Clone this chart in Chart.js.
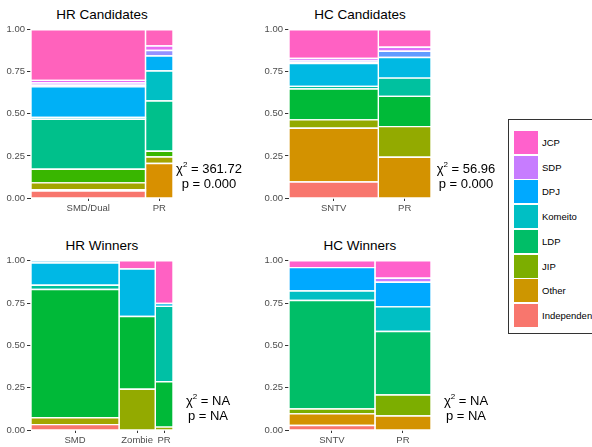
<!DOCTYPE html>
<html>
<head>
<meta charset="utf-8">
<script src="https://cdn.jsdelivr.net/npm/chart.js@4.4.1/dist/chart.umd.min.js"></script>
<style>
body { margin: 0; width: 592px; height: 447px; overflow: hidden; background: #fff; position: relative;
       font-family: "Liberation Sans", Arial, sans-serif; }
canvas { position: absolute; }
.title { position: absolute; width: 200px; text-align: center; font-size: 13.5px; line-height: 16px; color: #000; }
.stat { position: absolute; width: 80px; text-align: center; font-size: 13px; line-height: 15px; color: #000; }
.stat sup { font-size: 8px; line-height: 0; vertical-align: 6px; }
#legend { position: absolute; left: 508px; top: 119px; width: 110px; height: 213px; border: 1px solid #333; }
.key { position: absolute; left: 5px; width: 24px; height: 23px; }
.lab { position: absolute; left: 33px; font-size: 9.5px; line-height: 23px; color: #000; white-space: nowrap; }
</style>
</head>
<body>

<div class="title" style="left:2px;top:7px">HR Candidates</div>
<div class="title" style="left:260px;top:7px">HC Candidates</div>
<div class="title" style="left:2px;top:238px">HR Winners</div>
<div class="title" style="left:260px;top:238px">HC Winners</div>

<canvas id="hrCand" width="176" height="192" style="left:0px;top:22px"></canvas>
<canvas id="hcCand" width="176" height="192" style="left:258px;top:22px"></canvas>
<canvas id="hrWin" width="176" height="193" style="left:0px;top:253px"></canvas>
<canvas id="hcWin" width="176" height="193" style="left:258px;top:253px"></canvas>

<div class="stat" style="left:169px;top:161px">&chi;<sup>2</sup> = 361.72<br>p = 0.000</div>
<div class="stat" style="left:426px;top:161px">&chi;<sup>2</sup> = 56.96<br>p = 0.000</div>
<div class="stat" style="left:168px;top:393px">&chi;<sup>2</sup> = NA<br>p = NA</div>
<div class="stat" style="left:426px;top:393px">&chi;<sup>2</sup> = NA<br>p = NA</div>

<div id="legend"></div>

<script>
// y axis ticks shared by all four panels
const yTicks = [0, 0.25, 0.5, 0.75, 1];

// legend
const legendLabels = ['JCP', 'SDP', 'DPJ', 'Komeito', 'LDP', 'JIP', 'Other', 'Independent'];
const legendColors = ['#FF61CC', '#C77CFF', '#00A9FF', '#00BFC4', '#00BE67', '#7CAE00', '#CD9600', '#F8766D'];

// HR Candidates (shares stacked bottom -> top)
const hrCandCats = ['SMD/Dual', 'PR'];
const hrCandWidths = [0.806, 0.194];
const hrCandShares = [
    [0.042, 0.008, 0.040, 0.081, 0.297, 0.011, 0.181, 0.010, 0.013, 0.016, 0.301],
    [0.205, 0.039, 0.034, 0.298, 0.179, 0.089, 0.032, 0.027, 0.097]
];
const hrCandColors = [
    ['#F8766D', '#DB8E00', '#A3A500', '#39B600', '#00C08B', '#00BFC4', '#00B0F6', '#5FC6F5', '#B983FF', '#E76BF3', '#FF62BC'],
    ['#D89000', '#A3A500', '#39B600', '#00C08B', '#00BFC4', '#00B0F6', '#9590FF', '#E76BF3', '#FF62BC']
];

// HC Candidates
const hcCandCats = ['SNTV', 'PR'];
const hcCandWidths = [0.629, 0.371];
const hcCandShares = [
    [0.095, 0.319, 0.050, 0.184, 0.015, 0.136, 0.006, 0.010, 0.014, 0.171],
    [0.242, 0.182, 0.180, 0.108, 0.123, 0.037, 0.024, 0.104]
];
const hcCandColors = [
    ['#F8766D', '#D39200', '#93AA00', '#00BA38', '#00C19F', '#00B9E3', '#619CFF', '#9590FF', '#DB72FB', '#FF61C3'],
    ['#D39200', '#93AA00', '#00BA38', '#00C19F', '#00B9E3', '#619CFF', '#DB72FB', '#FF61C3']
];

// HR Winners
const hrWinCats = ['SMD', 'Zombie', 'PR'];
const hrWinWidths = [0.62, 0.255, 0.125];
const hrWinShares = [
    [0.032, 0.040, 0.758, 0.025, 0.131, 0.014],
    [0.241, 0.429, 0.281, 0.049],
    [0.017, 0.268, 0.445, 0.017, 0.253]
];
const hrWinColors = [
    ['#F8766D', '#A3A500', '#00B938', '#00BF9A', '#00B8E5', '#7FD3F2'],
    ['#93AA00', '#00B938', '#00B8E5', '#FF61C3'],
    ['#93AA00', '#00B938', '#00C0A5', '#00B8E5', '#FF61C3']
];

// HC Winners
const hcWinCats = ['SNTV', 'PR'];
const hcWinWidths = [0.605, 0.395];
const hcWinShares = [
    [0.027, 0.068, 0.029, 0.641, 0.056, 0.138, 0.041],
    [0.083, 0.124, 0.375, 0.145, 0.146, 0.023, 0.104]
];
const hcWinColors = [
    ['#F8766D', '#D39200', '#7CAE00', '#00BE67', '#00BFC4', '#00A9FF', '#FF61CC'],
    ['#D39200', '#7CAE00', '#00BE67', '#00BFC4', '#00A9FF', '#C77CFF', '#FF61CC']
];

const tickFont = { family: 'Liberation Sans', size: 9.5 };

// each tile is a closed line filled as a shape
function mosaicDatasets(widths, shares, colors) {
    const sets = [];
    let x0 = 0;
    widths.forEach((w, j) => {
        const x1 = x0 + w;
        let y0 = 0;
        shares[j].forEach((s, k) => {
            const y1 = y0 + s;
            sets.push({
                data: [{x: x0, y: y0}, {x: x1, y: y0}, {x: x1, y: y1}, {x: x0, y: y1}, {x: x0, y: y0}],
                backgroundColor: colors[j][k],
                borderColor: '#ffffff',
                borderWidth: 1.4,
                fill: 'shape',
                pointRadius: 0,
                pointHoverRadius: 0,
                tension: 0,
                clip: false
            });
            y0 = y1;
        });
        x0 = x1;
    });
    return sets;
}

function columnCenters(widths) {
    const out = [];
    let x0 = 0;
    widths.forEach(w => { out.push(x0 + w / 2); x0 += w; });
    return out;
}

function makeChart(id, cats, widths, shares, colors) {
    const centers = columnCenters(widths);
    return new Chart(document.getElementById(id), {
        type: 'line',
        data: { datasets: mosaicDatasets(widths, shares, colors) },
        options: {
            responsive: false,
            animation: false,
            devicePixelRatio: 1,
            events: [],
            layout: { padding: { top: 5, right: 3, left: 0, bottom: 0 } },
            plugins: { legend: { display: false }, tooltip: { enabled: false } },
            scales: {
                x: {
                    type: 'linear', min: 0, max: 1,
                    afterBuildTicks: axis => { axis.ticks = centers.map(v => ({ value: v })); },
                    afterFit: axis => { axis.height = 16; },
                    ticks: { autoSkip: false, maxRotation: 0, padding: 2, color: '#4D4D4D', font: tickFont,
                             callback: (v, i) => cats[i] },
                    grid: { drawOnChartArea: false, tickLength: 3, color: '#333333' },
                    border: { display: false }
                },
                y: {
                    type: 'linear', min: 0, max: 1,
                    afterBuildTicks: axis => { axis.ticks = yTicks.map(v => ({ value: v })); },
                    afterFit: axis => { axis.width = 31; },
                    ticks: { padding: 2, color: '#4D4D4D', font: tickFont, callback: v => v.toFixed(2) },
                    grid: { drawOnChartArea: false, tickLength: 4, color: '#333333' },
                    border: { display: false }
                }
            }
        }
    });
}

makeChart('hrCand', hrCandCats, hrCandWidths, hrCandShares, hrCandColors);
makeChart('hcCand', hcCandCats, hcCandWidths, hcCandShares, hcCandColors);
makeChart('hrWin', hrWinCats, hrWinWidths, hrWinShares, hrWinColors);
makeChart('hcWin', hcWinCats, hcWinWidths, hcWinShares, hcWinColors);

// legend boxes
const legend = document.getElementById('legend');
legendLabels.forEach((name, i) => {
    const top = 11 + i * 24.7;
    const key = document.createElement('div');
    key.className = 'key';
    key.style.top = top + 'px';
    key.style.background = legendColors[i];
    legend.appendChild(key);
    const lab = document.createElement('div');
    lab.className = 'lab';
    lab.style.top = top + 'px';
    lab.textContent = name;
    legend.appendChild(lab);
});
</script>
</body>
</html>
